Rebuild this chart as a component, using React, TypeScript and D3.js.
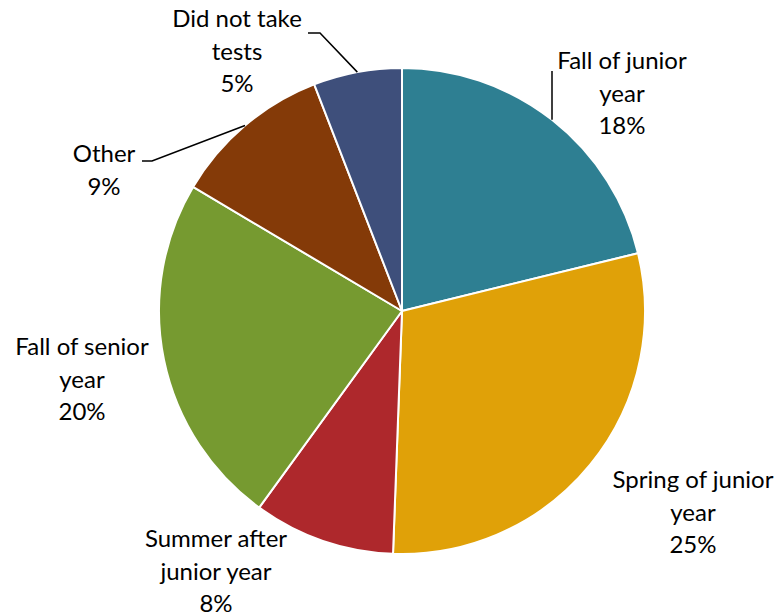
import * as d3 from 'd3';
import React, { useEffect, useRef } from 'react';

const categories = [
  'Fall of junior year',
  'Spring of junior year',
  'Summer after junior year',
  'Fall of senior year',
  'Other',
  'Did not take tests',
];
const percents = [18, 25, 8, 20, 9, 5];
const labelLines = [
  ['Fall of junior', 'year'],
  ['Spring of junior', 'year'],
  ['Summer after', 'junior year'],
  ['Fall of senior', 'year'],
  ['Other'],
  ['Did not take', 'tests'],
];
const colors = ['#2e7f92', '#e0a108', '#ae282c', '#769a30', '#843a08', '#3e4f7b'];

// label block placement relative to pie centre (x centre, first baseline)
const labelPos = [
  [220, -242],
  [291, 177],
  [-186, 236],
  [-320, 44],
  [-298, -149],
  [-165, -284],
];
// leader lines: elbow points relative to centre, null = no leader
const leaders: (number[][] | null)[] = [
  [[150, -240]],
  null,
  null,
  null,
  [[-250, -150], [-260, -150]],
  [[-82, -278], [-94, -278]],
];

export default function App() {
  const svgRef = useRef<SVGSVGElement>(null);
  const width = 779;
  const height = 616;

  useEffect(() => {
    const svg = d3.select(svgRef.current);
    svg.selectAll('*').remove();

    const cx = 402;
    const cy = 311;
    const radius = 243;

    const data = categories.map((c, i) => ({ name: c, value: percents[i], i }));

    const pie = d3.pie<any>().value(d => d.value).sort(null);
    const arc = d3.arc<any>().innerRadius(0).outerRadius(radius);

    const g = svg.append('g').attr('transform', `translate(${cx},${cy})`);
    const arcs = pie(data);

    g.selectAll('path')
      .data(arcs)
      .enter()
      .append('path')
      .attr('d', arc)
      .attr('fill', d => colors[d.data.i])
      .attr('stroke', 'white')
      .attr('stroke-width', 2)
      .attr('stroke-linejoin', 'round');

    // leader lines
    arcs.forEach(d => {
      const pts = leaders[d.data.i];
      if (!pts) return;
      const mid = (d.startAngle + d.endAngle) / 2;
      const start: [number, number] = [Math.sin(mid) * radius, -Math.cos(mid) * radius];
      const line = d3.line()([start, ...(pts as [number, number][])]);
      g.append('path')
        .attr('d', line)
        .attr('fill', 'none')
        .attr('stroke', 'black')
        .attr('stroke-width', 1.5);
    });

    // labels
    arcs.forEach(d => {
      const [lx, ly] = labelPos[d.data.i];
      const lines = [...labelLines[d.data.i], `${d.data.value}%`];
      const t = g.append('text')
        .attr('x', lx)
        .attr('y', ly)
        .attr('text-anchor', 'middle')
        .style('font-family', 'Lato, sans-serif')
        .style('font-size', '24px')
        .attr('fill', 'black');
      lines.forEach((s, k) => {
        t.append('tspan')
          .attr('x', lx)
          .attr('y', ly + k * 32.5)
          .text(s);
      });
    });
  }, []);

  return (
    <svg ref={svgRef} width={width} height={height} style={{ position: 'absolute', left: 0, top: 0 }} />
  );
}
